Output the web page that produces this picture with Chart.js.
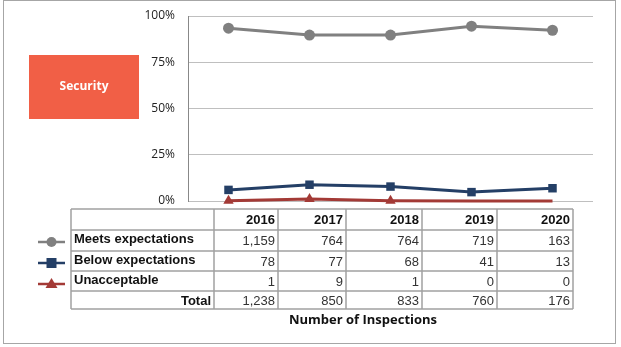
<!DOCTYPE html>
<html>
<head>
<meta charset="utf-8">
<script src="https://cdn.jsdelivr.net/npm/chart.js@4/dist/chart.umd.min.js"></script>
<style>
  html, body { margin: 0; padding: 0; background: #fff; }
  #wrap { position: relative; width: 621px; height: 347px; }
</style>
</head>
<body>
<div id="wrap"><canvas id="canvas" width="621" height="347"></canvas></div>
<script>
// inspection results by year
var years = ['2016', '2017', '2018', '2019', '2020'];
var meetsPct = [93.4, 89.7, 89.7, 94.5, 92.3];
var belowPct = [6.0, 8.8, 7.8, 4.8, 6.9];
var unaccPct = [0.1, 1.1, 0.1, 0, 0];
var meetsCount = ['1,159', '764', '764', '719', '163'];
var belowCount = ['78', '77', '68', '41', '13'];
var unaccCount = ['1', '9', '1', '0', '0'];
var totalCount = ['1,238', '850', '833', '760', '176'];
var yTicks = [0, 25, 50, 75, 100];

var GRAY = '#808080', NAVY = '#243F66', RED = '#A33A36';

// table geometry under the plot
var colX = [71, 214, 278, 346, 422, 497, 573];
var rowY = [209, 230, 251, 271, 291, 309];

var rows = [
    { label: 'Meets expectations', values: meetsCount, color: GRAY, marker: 'circle' },
    { label: 'Below expectations', values: belowCount, color: NAVY, marker: 'rect' },
    { label: 'Unacceptable', values: unaccCount, color: RED, marker: 'triangle' },
    { label: 'Total', values: totalCount, right: true }
];
var markerY = [242, 263, 284];

function drawMarker(ctx, kind, x, y, color) {
    ctx.fillStyle = color;
    ctx.beginPath();
    if (kind === 'circle') {
        ctx.arc(x, y, 5, 0, Math.PI * 2);
    } else if (kind === 'rect') {
        ctx.rect(x - 5, y - 5, 10, 10);
    } else {
        ctx.moveTo(x, y - 6);
        ctx.lineTo(x + 6, y + 4);
        ctx.lineTo(x - 6, y + 4);
        ctx.closePath();
    }
    ctx.fill();
}

var extras = {
    id: 'extras',
    beforeDraw: function (chart) {
        var ctx = chart.ctx;
        ctx.save();
        // sheet frame
        ctx.strokeStyle = '#a6a6a6';
        ctx.lineWidth = 1;
        ctx.strokeRect(3.5, 0.5, 612, 343);
        // title block
        ctx.fillStyle = '#F15F46';
        ctx.fillRect(29, 55, 110, 64);
        ctx.fillStyle = '#fff';
        ctx.font = 'bold 12px "Open Sans"';
        ctx.textAlign = 'center';
        ctx.textBaseline = 'middle';
        ctx.fillText('Security', 84, 87);
        ctx.restore();
    },
    afterDraw: function (chart) {
        var ctx = chart.ctx;
        ctx.save();
        // table grid
        ctx.strokeStyle = '#a0a0a0';
        ctx.lineWidth = 1.5;
        rowY.forEach(function (y) {
            ctx.beginPath();
            ctx.moveTo(colX[0], y);
            ctx.lineTo(colX[colX.length - 1], y);
            ctx.stroke();
        });
        colX.forEach(function (x) {
            ctx.beginPath();
            ctx.moveTo(x, rowY[0]);
            ctx.lineTo(x, rowY[rowY.length - 1]);
            ctx.stroke();
        });

        ctx.textBaseline = 'middle';
        // header years
        ctx.fillStyle = '#111';
        ctx.font = 'bold 13px "Liberation Sans"';
        ctx.textAlign = 'right';
        years.forEach(function (yr, i) {
            ctx.fillText(yr, colX[i + 2] - 3, (rowY[0] + rowY[1]) / 2 + 1);
        });

        rows.forEach(function (r, ri) {
            var cy = (rowY[ri + 1] + rowY[ri + 2]) / 2 + 1;
            ctx.font = 'bold 13px "Liberation Sans"';
            ctx.fillStyle = '#111';
            if (r.right) {
                ctx.textAlign = 'right';
                ctx.fillText(r.label, colX[1] - 3, cy);
            } else {
                ctx.textAlign = 'left';
                ctx.fillText(r.label, colX[0] + 3, cy - 2);
            }
            ctx.font = '13px "Liberation Sans"';
            ctx.fillStyle = '#333';
            ctx.textAlign = 'right';
            r.values.forEach(function (v, i) {
                ctx.fillText(v, colX[i + 2] - 3, cy);
            });
            // legend key
            if (r.color) {
                var my = markerY[ri];
                ctx.strokeStyle = r.color;
                ctx.lineWidth = 2.5;
                ctx.beginPath();
                ctx.moveTo(38, my);
                ctx.lineTo(65, my);
                ctx.stroke();
                drawMarker(ctx, r.marker, 51.5, my, r.color);
            }
        });

        ctx.fillStyle = '#111';
        ctx.font = 'bold 13px "Open Sans"';
        ctx.textAlign = 'center';
        ctx.fillText('Number of Inspections', 363, 320);
        ctx.restore();
    }
};

var lineChartData = {
    labels: years,
    datasets: [
        {
            label: 'Meets expectations',
            data: meetsPct,
            borderColor: GRAY,
            backgroundColor: GRAY,
            pointStyle: 'circle',
            pointRadius: 5.5
        },
        {
            label: 'Below expectations',
            data: belowPct,
            borderColor: NAVY,
            backgroundColor: NAVY,
            pointStyle: 'rect',
            pointRadius: 6
        },
        {
            label: 'Unacceptable',
            data: unaccPct,
            borderColor: RED,
            backgroundColor: RED,
            pointStyle: 'triangle',
            pointRadius: [6, 6, 6, 0, 0]
        }
    ]
};

var ctx = document.getElementById('canvas').getContext('2d');

var myLineChart = new Chart(ctx, {
    type: 'line',
    data: lineChartData,
    plugins: [extras],
    options: {
        responsive: false,
        animation: false,
        clip: false,
        elements: {
            line: { borderWidth: 3, tension: 0 },
            point: { borderWidth: 0, hoverRadius: 6 }
        },
        layout: {
            padding: { left: 0, top: 16, right: 28, bottom: 146 }
        },
        plugins: {
            legend: { display: false },
            tooltip: { enabled: false }
        },
        scales: {
            x: {
                display: false,
                offset: true
            },
            y: {
                min: 0,
                max: 100,
                afterFit: function (scale) {
                    scale.width = 188;
                    scale.paddingTop = 0;
                    scale.paddingBottom = 0;
                },
                afterBuildTicks: function (scale) {
                    scale.ticks = yTicks.map(function (v) { return { value: v }; });
                },
                grid: { color: '#bfbfbf', lineWidth: 1, drawTicks: false },
                border: { color: '#888', width: 1 },
                ticks: {
                    padding: 13,
                    color: '#222',
                    font: { family: 'Open Sans', size: 12 },
                    callback: function (v) { return v + '%'; }
                }
            }
        }
    }
});
</script>
</body>
</html>
